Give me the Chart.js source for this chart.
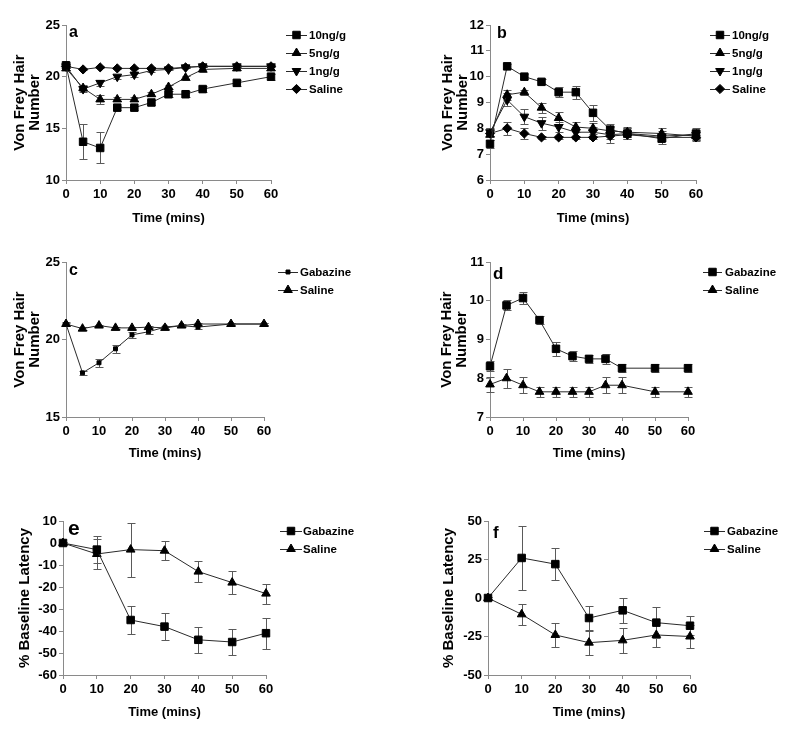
<!DOCTYPE html>
<html>
<head>
<meta charset="utf-8">
<script src="https://cdn.jsdelivr.net/npm/chart.js@4.4.1/dist/chart.umd.min.js"></script>
<style>
  html, body { margin: 0; padding: 0; background: #fff; }
  #fig { position: relative; width: 785px; height: 732px; }
  #fig canvas { position: absolute; }
</style>
</head>
<body>
<div id="fig">
  <canvas id="pa" width="392" height="230" style="left:0;top:0"></canvas>
  <canvas id="pb" width="393" height="230" style="left:392px;top:0"></canvas>
  <canvas id="pc" width="392" height="235" style="left:0;top:230px"></canvas>
  <canvas id="pd" width="393" height="235" style="left:392px;top:230px"></canvas>
  <canvas id="pe" width="392" height="267" style="left:0;top:465px"></canvas>
  <canvas id="pf" width="393" height="267" style="left:392px;top:465px"></canvas>
</div>
<script>
// time points (mins)
const timeAD = [0, 5, 10, 15, 20, 25, 30, 35, 40, 50, 60];
const timeEF = [0, 10, 20, 30, 40, 50, 60];

// panel a - von frey, dose response
const a10 = [21.1, 13.7, 13.1, 17.0, 17.0, 17.5, 18.3, 18.3, 18.8, 19.4, 20.0];
const a10Err = [0.3, 1.7, 1.5, 0.2, 0.2, 0.2, 0.3, 0.3, 0.3, 0.3, 0.3];
const a5 = [20.8, 18.9, 17.8, 17.8, 17.8, 18.3, 19.0, 19.9, 20.7, 20.8, 20.8];
const a5Err = [0.2, 0.3, 0.4, 0.2, 0.2, 0.2, 0.2, 0.2, 0.2, 0.2, 0.2];
const a1 = [21.0, 18.8, 19.4, 20.0, 20.2, 20.6, 20.7, 20.9, 21.0, 21.0, 21.0];
const a1Err = [0.2, 0.3, 0.3, 0.2, 0.2, 0.1, 0.1, 0.1, 0.1, 0.1, 0.1];
const aSal = [21.0, 20.7, 20.9, 20.8, 20.8, 20.8, 20.8, 20.9, 21.0, 21.0, 21.0];
const aSalErr = [0.1, 0.1, 0.1, 0.1, 0.1, 0.1, 0.1, 0.1, 0.1, 0.1, 0.1];

// panel b
const b10 = [7.4, 10.4, 10.0, 9.8, 9.4, 9.4, 8.6, 7.95, 7.8, 7.6, 7.8];
const b10Err = [0.15, 0.1, 0.1, 0.1, 0.2, 0.25, 0.3, 0.2, 0.2, 0.2, 0.2];
const b5 = [7.75, 9.3, 9.4, 8.8, 8.4, 8.05, 8.0, 7.9, 7.85, 7.8, 7.7];
const b5Err = [0.2, 0.2, 0.1, 0.2, 0.25, 0.2, 0.2, 0.2, 0.2, 0.2, 0.2];
const b1 = [7.85, 9.1, 8.45, 8.2, 8.05, 7.85, 7.85, 7.75, 7.8, 7.7, 7.75];
const b1Err = [0.15, 0.25, 0.3, 0.25, 0.2, 0.2, 0.2, 0.3, 0.2, 0.2, 0.2];
const bSal = [7.8, 8.0, 7.8, 7.65, 7.65, 7.65, 7.65, 7.7, 7.75, 7.65, 7.65];
const bSalErr = [0.1, 0.25, 0.2, 0.05, 0.05, 0.05, 0.05, 0.1, 0.1, 0.1, 0.1];

// panel c
const cGab = [21.0, 17.85, 18.5, 19.4, 20.3, 20.5, 20.8, 20.9, 20.8, 21.0, 21.0];
const cGabErr = [0.1, 0.15, 0.25, 0.25, 0.2, 0.15, 0.1, 0.1, 0.1, 0.05, 0.05];
const cSal = [21.0, 20.7, 20.9, 20.75, 20.75, 20.8, 20.75, 20.9, 21.0, 21.0, 21.0];
const cSalErr = [0.05, 0.1, 0.05, 0.05, 0.05, 0.05, 0.05, 0.05, 0.05, 0.05, 0.05];

// panel d
const dGab = [8.31, 9.88, 10.07, 9.5, 8.76, 8.57, 8.5, 8.5, 8.26, 8.26, 8.26];
const dGabErr = [0.13, 0.13, 0.15, 0.1, 0.18, 0.13, 0.1, 0.12, 0.1, 0.1, 0.1];
const dSal = [7.84, 8.0, 7.82, 7.65, 7.65, 7.65, 7.65, 7.82, 7.82, 7.65, 7.65];
const dSalErr = [0.2, 0.25, 0.2, 0.13, 0.13, 0.13, 0.13, 0.2, 0.2, 0.13, 0.13];

// panel e - % baseline latency
const eGab = [0, -3, -35, -38, -44, -45, -41];
const eGabErr = [0.5, 6, 6.2, 6, 6, 6, 7];
const eSal = [0, -5, -3, -3.5, -13, -18, -23];
const eSalErr = [0.5, 7, 12.3, 4.4, 4.7, 5.2, 4.5];

// panel f
const fGab = [0, 26, 22, -13, -8, -16, -18];
const fGabErr = [0.5, 21, 10.6, 8, 8.2, 10, 6];
const fSal = [0, -10.6, -24, -29, -27.5, -24, -25];
const fSalErr = [0.5, 6.7, 7.5, 7.7, 8.3, 7.5, 7.5];

const FONT = '"Liberation Sans", Arial, sans-serif';

Chart.defaults.font.family = FONT;
Chart.defaults.font.weight = 'bold';
Chart.defaults.font.size = 13;
Chart.defaults.color = '#000';

// marker styles
const SQ = { pointStyle: 'rect', pointRadius: 5.3 };
const SQs = { pointStyle: 'rect', pointRadius: 2.8 };
const TRI = { pointStyle: 'triangle', pointRadius: 5 };
const DTRI = { pointStyle: 'triangle', pointRadius: 5, rotation: 180 };
const DIA = { pointStyle: 'rectRot', pointRadius: 4.6 };

function series(label, xs, ys, errs, mark) {
  return Object.assign({
    label: label,
    data: xs.map((t, i) => ({ x: t, y: ys[i] })),
    errors: errs,
    borderColor: '#2a2a2a',
    borderWidth: 1,
    pointBackgroundColor: '#000',
    pointBorderColor: '#000',
    pointBorderWidth: 1,
    pointHoverRadius: 5,
    rotation: 0,
    clip: false,
    tension: 0
  }, mark);
}

function drawMarker(ctx, ds, x, y) {
  const opts = { pointStyle: ds.pointStyle, radius: ds.pointRadius, rotation: ds.rotation || 0, borderWidth: 1 };
  ctx.fillStyle = '#000';
  ctx.strokeStyle = '#000';
  ctx.lineWidth = 1;
  Chart.helpers.drawPoint(ctx, opts, x, y);
}

// error bars, drawn under the markers
const errorBars = {
  id: 'errorBars',
  beforeDatasetsDraw(chart) {
    const ctx = chart.ctx, ys = chart.scales.y;
    ctx.save();
    ctx.strokeStyle = '#5a5a5a';
    ctx.lineWidth = 1;
    chart.data.datasets.forEach((ds, i) => {
      if (!ds.errors) return;
      chart.getDatasetMeta(i).data.forEach((pt, j) => {
        const v = ds.data[j].y, e = ds.errors[j];
        const top = Math.round(ys.getPixelForValue(v + e)) + 0.5;
        const bot = Math.round(ys.getPixelForValue(v - e)) + 0.5;
        const x = Math.round(pt.x) + 0.5;
        ctx.beginPath();
        ctx.moveTo(x, top); ctx.lineTo(x, bot);
        ctx.moveTo(x - 4, top); ctx.lineTo(x + 4, top);
        ctx.moveTo(x - 4, bot); ctx.lineTo(x + 4, bot);
        ctx.stroke();
      });
    });
    ctx.restore();
  }
};

// prism style legend: short line with marker, then label
const sideLegend = {
  id: 'sideLegend',
  afterDraw(chart, args, o) {
    const ctx = chart.ctx;
    ctx.save();
    chart.data.datasets.forEach((ds, i) => {
      const y = o.y0 + i * o.dy;
      ctx.strokeStyle = '#2a2a2a';
      ctx.lineWidth = 1;
      ctx.beginPath();
      ctx.moveTo(o.x1, y + 0.5);
      ctx.lineTo(o.x2, y + 0.5);
      ctx.stroke();
      drawMarker(ctx, ds, (o.x1 + o.x2) / 2, y);
      ctx.fillStyle = '#000';
      ctx.font = 'bold 11.5px ' + FONT;
      ctx.textBaseline = 'middle';
      ctx.textAlign = 'left';
      ctx.fillText(ds.label, o.tx, y + 0.5);
    });
    ctx.restore();
  }
};

const panelLabel = {
  id: 'panelLabel',
  afterDraw(chart, args, o) {
    const ctx = chart.ctx;
    ctx.save();
    ctx.fillStyle = '#000';
    ctx.font = 'bold ' + o.size + 'px ' + FONT;
    ctx.textBaseline = 'alphabetic';
    ctx.fillText(o.text, o.x, o.y);
    ctx.restore();
  }
};

function makePanel(id, datasets, p) {
  new Chart(document.getElementById(id), {
    type: 'line',
    data: { datasets: datasets },
    options: {
      responsive: false,
      animation: false,
      events: [],
      layout: { padding: { left: 0, top: p.top, right: p.right, bottom: 0 } },
      plugins: {
        legend: { display: false },
        tooltip: { enabled: false },
        sideLegend: p.legend,
        panelLabel: p.label
      },
      scales: {
        x: {
          type: 'linear', min: 0, max: 60,
          ticks: { stepSize: 10, padding: 3, color: '#000', font: { size: 13, weight: 'bold' } },
          grid: { display: true, drawOnChartArea: false, tickLength: 4, color: '#8a8a8a' },
          border: { display: true, color: '#8a8a8a' },
          title: { display: true, text: 'Time (mins)', color: '#000', font: { size: 13, weight: 'bold' }, padding: { top: 0, bottom: p.xTitlePad } },
          afterFit: s => { s.height = p.xH; }
        },
        y: {
          type: 'linear', min: p.yMin, max: p.yMax,
          ticks: { stepSize: p.yStep, padding: 2, color: '#000', font: { size: 13, weight: 'bold' } },
          grid: { display: true, drawOnChartArea: false, tickLength: 4, color: '#8a8a8a' },
          border: { display: true, color: '#8a8a8a' },
          title: { display: true, text: p.yTitle, color: '#000', font: { size: 15, weight: 'bold', lineHeight: 1.0 }, padding: { top: p.yTitlePad, bottom: 0 } },
          afterFit: s => { s.width = p.left; }
        }
      }
    },
    plugins: [errorBars, sideLegend, panelLabel]
  });
}

const vfTitle = ['Von Frey Hair', 'Number'];
const blTitle = '% Baseline Latency';

makePanel('pa', [
  series('10ng/g', timeAD, a10, a10Err, SQ),
  series('5ng/g', timeAD, a5, a5Err, TRI),
  series('1ng/g', timeAD, a1, a1Err, DTRI),
  series('Saline', timeAD, aSal, aSalErr, DIA)
], { left: 66, right: 121, top: 25, xH: 50, xTitlePad: 4, yMin: 10, yMax: 25, yStep: 5,
     yTitle: vfTitle, yTitlePad: 12.5,
     legend: { x1: 286, x2: 307, tx: 309, y0: 35, dy: 18 },
     label: { text: 'a', x: 69, y: 37, size: 16 } });

makePanel('pb', [
  series('10ng/g', timeAD, b10, b10Err, SQ),
  series('5ng/g', timeAD, b5, b5Err, TRI),
  series('1ng/g', timeAD, b1, b1Err, DTRI),
  series('Saline', timeAD, bSal, bSalErr, DIA)
], { left: 98, right: 89, top: 25, xH: 50, xTitlePad: 4, yMin: 6, yMax: 12, yStep: 1,
     yTitle: vfTitle, yTitlePad: 48,
     legend: { x1: 318, x2: 338, tx: 340, y0: 35, dy: 18 },
     label: { text: 'b', x: 105, y: 38, size: 16 } });

makePanel('pc', [
  series('Gabazine', timeAD, cGab, cGabErr, SQs),
  series('Saline', timeAD, cSal, cSalErr, TRI)
], { left: 66, right: 128, top: 32, xH: 48, xTitlePad: 4, yMin: 15, yMax: 25, yStep: 5,
     yTitle: vfTitle, yTitlePad: 12.5,
     legend: { x1: 278, x2: 298, tx: 300, y0: 42, dy: 18 },
     label: { text: 'c', x: 69, y: 45, size: 16 } });

makePanel('pd', [
  series('Gabazine', timeAD, dGab, dGabErr, SQ),
  series('Saline', timeAD, dSal, dSalErr, TRI)
], { left: 98, right: 97, top: 32, xH: 48, xTitlePad: 4, yMin: 7, yMax: 11, yStep: 1,
     yTitle: vfTitle, yTitlePad: 47,
     legend: { x1: 311, x2: 330, tx: 333, y0: 42, dy: 18 },
     label: { text: 'd', x: 101, y: 49, size: 17 } });

makePanel('pe', [
  series('Gabazine', timeEF, eGab, eGabErr, SQ),
  series('Saline', timeEF, eSal, eSalErr, TRI)
], { left: 63, right: 126, top: 56, xH: 57, xTitlePad: 12, yMin: -60, yMax: 10, yStep: 10,
     yTitle: blTitle, yTitlePad: 17,
     legend: { x1: 280, x2: 302, tx: 303, y0: 66, dy: 18 },
     label: { text: 'e', x: 68, y: 70, size: 21 } });

makePanel('pf', [
  series('Gabazine', timeEF, fGab, fGabErr, SQ),
  series('Saline', timeEF, fSal, fSalErr, TRI)
], { left: 96, right: 95, top: 56, xH: 57, xTitlePad: 12, yMin: -50, yMax: 50, yStep: 25,
     yTitle: blTitle, yTitlePad: 49,
     legend: { x1: 312, x2: 333, tx: 335, y0: 66, dy: 18 },
     label: { text: 'f', x: 101, y: 73, size: 17 } });
</script>
</body>
</html>
